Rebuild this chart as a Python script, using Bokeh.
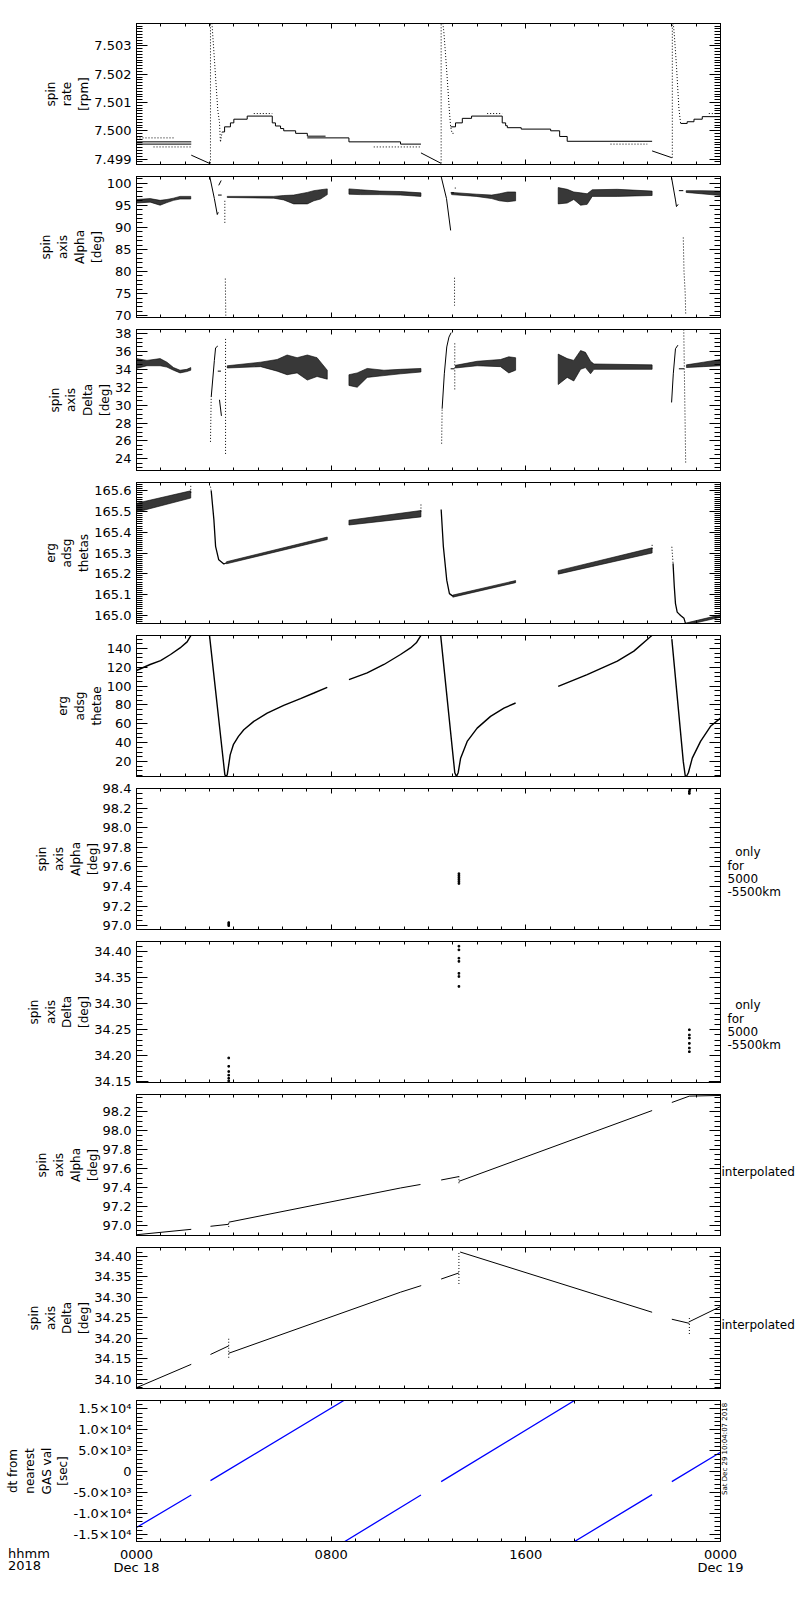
from bokeh.plotting import figure
from bokeh.layouts import column
from bokeh.models import (LinearAxis, FixedTicker, SingleIntervalTicker, PrintfTickFormatter,
                          CustomJSTickFormatter, Range1d, Div)
from bokeh.embed import file_html
from bokeh.resources import INLINE

N = float("nan")

# ---------------- time axis (hours since 2018-12-18 00:00) ----------------
hour_ticks = [0, 8, 16, 24]
hour_minor = list(range(0, 25))
hour_labels = ["0000\nDec 18", "0800", "1600", "0000\nDec 19"]
corner_label = ["hhmm", "2018"]
stamp_text = "Sat Dec 29 10:04:07 2018"
only_text = "\n\n\u00a0\u00a0only\nfor\n5000\n-5500km"
interp_text = "\ninterpolated"

# ---------------- panel 1 : spin rate [rpm] ----------------
rate_t = [0, 2.25, N, 0, 2.25, N, 2.25, 3.0, N,
          3.52, 3.62, 3.62, 3.86, 3.86, 4.0, 4.0, 4.55, 4.55, 5.58, 5.58, 5.71, 5.71, 5.92, 5.92,
          6.05, 6.05, 6.54, 6.54, 7.02, 7.02, 7.77, N,
          7.02, 8.73, 8.73, 10.85, 10.85, 11.69, N,
          11.69, 12.52, N,
          12.91, 13.11, 13.11, 13.39, 13.39, 13.77, 13.77, 15.03, 15.03, 15.17, 15.17, 15.24, 15.24,
          15.81, 15.81, 17.02, 17.02, 17.39, 17.39, 17.7, 17.7, 21.19, N,
          21.19, 22.0, N,
          22.36, 22.63, 22.63, 22.91, 22.91, 23.25, 23.25, 24.0]
rate_v = [7.49961, 7.49961, N, 7.49953, 7.49953, N, 7.49914, 7.49885, N,
          7.49996, 7.49996, 7.50014, 7.50014, 7.50028, 7.50028, 7.50041, 7.50041, 7.50052, 7.50052,
          7.50028, 7.50028, 7.50017, 7.50017, 7.50008, 7.50008, 7.5, 7.5, 7.49991, 7.49991,
          7.49981, 7.49981, N,
          7.49975, 7.49975, 7.49961, 7.49961, 7.49953, 7.49953, N,
          7.49922, 7.49885, N,
          7.50014, 7.50014, 7.50028, 7.50028, 7.50044, 7.50044, 7.50052, 7.50052, 7.50028, 7.50028,
          7.50018, 7.50018, 7.50011, 7.50011, 7.50006, 7.50006, 7.5, 7.5, 7.4998, 7.4998,
          7.49963, 7.49963, N,
          7.49929, 7.49905, N,
          7.50026, 7.50026, 7.50032, 7.50032, 7.50041, 7.50041, 7.5005, 7.5005]
rate_dot_t = [0, 1.55, N, 0.7, 2.25, N, 3.04, 3.04, N, 3.1, 3.18, 3.25, 3.34, 3.41, 3.45, 3.52, N,
              4.82, 5.58, N, 9.75, 11.69, N, 12.52, 12.52, N,
              12.59, 12.63, 12.7, 12.77, 12.85, 12.91, 12.97, 13.05, N, 14.41, 15.03, N, 19.48, 20.99, N,
              22.02, 22.02, N, 22.06, 22.11, 22.19, 22.29, 22.36, N, 23.52, 24.0]
rate_dot_v = [7.49975, 7.49975, N, 7.49943, 7.49943, N, 7.49885, 7.5038, N,
              7.5038, 7.5028, 7.5019, 7.50073, 7.5003, 7.4996, 7.49996, N,
              7.50061, 7.50061, N, 7.49943, 7.49943, N, 7.49885, 7.5038, N,
              7.5038, 7.5035, 7.5027, 7.50185, 7.5008, 7.50014, 7.49991, 7.49991, N,
              7.50061, 7.50061, N, 7.49953, 7.49953, N,
              7.49905, 7.5038, N, 7.5038, 7.5033, 7.5023, 7.5008, 7.50026, N, 7.50061, 7.50061]

# ---------------- panel 2 : spin axis Alpha [deg] ----------------
alpha_band_t = [0, 0.56, 0.97, 1.25, 1.52, 1.79, 2.23, N,
                3.73, 5.64, 6.05, 6.46, 7.02, 7.29, 7.56, 7.84, N,
                8.73, 9.2, 10.0, 10.85, 11.69, N,
                12.95, 13.96, 14.6, 14.92, 15.25, 15.58, N,
                17.33, 17.7, 17.97, 18.25, 18.52, 18.73, 19.76, 21.19, N,
                22.59, 23.2, 24.0]
alpha_band_lo = [95.5, 95.7, 95.0, 95.6, 96.1, 96.4, 96.4, N,
                 96.75, 96.6, 96.2, 95.3, 95.3, 96.0, 96.4, 97.4, N,
                 97.5, 97.4, 97.4, 97.3, 97.0, N,
                 97.4, 97.0, 96.5, 96.0, 95.8, 96.0, N,
                 95.3, 95.5, 96.3, 95.0, 95.2, 97.0, 97.0, 97.2, N,
                 97.9, 97.6, 97.2]
alpha_band_hi = [96.3, 96.5, 96.1, 96.3, 96.6, 97.0, 97.0, N,
                 97.0, 97.0, 97.2, 97.3, 97.9, 98.3, 98.5, 98.7, N,
                 98.7, 98.5, 98.2, 98.1, 97.8, N,
                 97.9, 97.5, 97.3, 97.6, 98.0, 98.0, N,
                 99.0, 98.6, 98.0, 97.8, 97.6, 98.5, 98.6, 98.2, N,
                 98.3, 98.3, 98.2]
alpha_t = [3.01, 3.2, 3.32, 3.36, N, 3.38, 3.48, N, 3.35, 3.5, N,
           12.52, 12.74, 12.91, N, 12.91, 13.05, N,
           21.99, 22.15, 22.19, 22.26, N, 22.29, 22.47]
alpha_v = [101.5, 96.5, 92.9, 93.4, N, 99.5, 100.6, N, 97.3, 97.3, N,
           101.5, 96.5, 89.3, N, 97.8, 97.8, N,
           101.2, 96.2, 94.7, 95.2, N, 98.3, 98.3]
alpha_dot_t = [3.63, 3.63, N, 3.65, 3.67, N, 13.07, 13.07, N, 22.47, 22.5, 22.55, 22.57, N, 13.1, 13.1]
alpha_dot_v = [96.0, 91.0, N, 78.4, 69.6, N, 78.6, 72.3, N, 87.7, 80.0, 75.0, 70.3, N, 99.0, 98.4]

# ---------------- panel 3 : spin axis Delta [deg] ----------------
delta_band_t = [0, 0.43, 0.97, 1.25, 1.52, 1.79, 2.07, 2.23, N,
                3.73, 5.10, 5.78, 6.19, 6.6, 7.02, 7.42, 7.84, N,
                8.73, 9.07, 9.48, 10.17, 10.85, 11.69, N,
                13.11, 14.0, 14.96, 15.3, 15.58, N,
                17.33, 17.7, 17.97, 18.25, 18.45, 18.66, 18.8, 21.19, N,
                22.6, 23.3, 24.0]
delta_band_lo = [34.1, 34.4, 34.4, 34.25, 33.9, 33.6, 33.75, 33.9, N,
                 34.15, 34.3, 33.8, 33.4, 33.6, 32.8, 33.2, 32.9, N,
                 32.2, 32.0, 33.1, 33.3, 33.5, 33.7, N,
                 34.15, 34.4, 34.3, 33.6, 33.9, N,
                 32.3, 33.1, 32.7, 34.0, 34.2, 33.5, 34.0, 34.0, N,
                 34.2, 34.3, 34.4]
delta_band_hi = [35.2, 35.0, 35.2, 34.8, 34.2, 33.9, 34.0, 34.2, N,
                 34.4, 34.8, 35.1, 35.6, 35.3, 35.6, 35.3, 33.9, N,
                 33.4, 33.6, 34.1, 33.9, 34.0, 34.1, N,
                 34.45, 34.9, 35.1, 35.4, 35.3, N,
                 35.7, 35.2, 35.0, 36.1, 35.9, 34.9, 34.6, 34.5, N,
                 34.5, 34.8, 35.1]
delta_t = [3.07, 3.2, 3.25, 3.34, N, 3.41, 3.49, N, 3.34, 3.47, N,
           12.56, 12.65, 12.75, 12.84, 12.93, N, 12.91, 13.07, N,
           21.99, 22.06, 22.15, 22.25, N, 22.29, 22.5]
delta_v = [30.9, 35.0, 36.4, 36.6, N, 30.6, 28.8, N, 33.8, 33.8, N,
           29.6, 33.5, 36.5, 37.6, 38.1, N, 34.06, 34.06, N,
           30.3, 33.5, 36.3, 36.7, N, 34.06, 34.06]
delta_dot_t = [3.04, 3.07, N, 3.66, 3.66, N, 12.54, 12.56, N, 13.08, 13.08, N, 22.49, 22.57]
delta_dot_v = [25.9, 30.9, N, 37.4, 24.5, N, 25.7, 29.6, N, 36.9, 31.6, N, 38.45, 23.4]

# ---------------- panel 4 : erg adsg thetas ----------------
thetas_band_t = [0, 2.23, N, 3.7, 7.84, N, 8.73, 11.69, N, 13.0, 15.58, N, 17.33, 21.19, N, 22.57, 24.0]
thetas_band_lo = [165.497, 165.565, N, 165.248, 165.365, N, 165.435, 165.474, N,
                  165.087, 165.157, N, 165.198, 165.30, N, 164.952, 164.99]
thetas_band_hi = [165.54, 165.60, N, 165.258, 165.377, N, 165.458, 165.505, N,
                  165.097, 165.167, N, 165.215, 165.325, N, 164.962, 165.002]
thetas_t = [3.07, 3.18, 3.25, 3.38, 3.59, 3.7, N,
            12.52, 12.61, 12.75, 12.86, 13.0, N,
            22.05, 22.1, 22.15, 22.22, 22.36, 22.5, 22.57]
thetas_v = [165.60, 165.461, 165.332, 165.267, 165.247, 165.253, N,
            165.51, 165.332, 165.169, 165.104, 165.092, N,
            165.25, 165.14, 165.056, 165.015, 164.999, 164.985, 164.957]
thetas_dot_t = [2.23, 2.23, N, 3.04, 3.07, N, 11.69, 11.69, N, 21.19, 21.19, N, 22.0, 22.05]
thetas_dot_v = [165.59, 165.624, N, 165.62, 165.60, N, 165.50, 165.54, N, 165.32, 165.34, N, 165.33, 165.25]

# ---------------- panel 5 : erg adsg thetae ----------------
thetae_t = [0, 0.56, 0.99, 1.4, 1.79, 2.08, 2.25, N,
            3.0, 3.63, 3.68, 3.73, 3.85, 3.98, 4.19, 4.41, 4.82, 5.37, 6.05, 6.74, 7.29, 7.84, N,
            8.73, 9.48, 10.17, 10.85, 11.26, 11.5, 11.69, N,
            12.5, 13.08, 13.15, 13.22, 13.32, 13.59, 14.0, 14.55, 15.1, 15.58, N,
            17.33, 18.52, 19.76, 20.44, 20.99, 21.19, N,
            22.0, 22.47, 22.55, 22.6, 22.68, 22.84, 23.18, 23.59, 24.0]
thetae_v = [116.6, 123, 127.2, 133.6, 140.6, 147, 154.5, N,
            154, 6, 3.5, 6, 27, 37.8, 46.6, 53.7, 62.6, 71.4, 79.6, 86.8, 92.7, 98.8, N,
            107, 114, 123, 133.6, 140.6, 146, 154, N,
            154, 8, 4, 8, 23.5, 41.3, 55.4, 67.9, 76.7, 82.1, N,
            99.8, 112.3, 126.5, 137.2, 149.6, 154, N,
            150, 20, 5, 4, 8, 23.5, 41.3, 57.3, 66]

# ---------------- panel 6 : spin axis Alpha, only for 5000-5500km ----------------
alpha_only_t = [3.79, 3.79, 3.79, 13.25, 13.25, 13.25, 13.25, 13.25, 13.25, 22.72, 22.72, 22.74]
alpha_only_v = [97.0, 97.015, 97.03, 97.43, 97.45, 97.47, 97.49, 97.51, 97.53, 98.35, 98.37, 98.39]

# ---------------- panel 7 : spin axis Delta, only for 5000-5500km ----------------
delta_only_t = [3.79, 3.79, 3.79, 3.79, 3.79, 3.79,
                13.25, 13.25, 13.25, 13.25, 13.25, 13.25, 13.25,
                22.72, 22.72, 22.72, 22.72, 22.72, 22.72]
delta_only_v = [34.152, 34.157, 34.163, 34.17, 34.18, 34.196,
                34.333, 34.352, 34.358, 34.381, 34.387, 34.403, 34.41,
                34.208, 34.215, 34.224, 34.234, 34.24, 34.25]
delta_only_edge_t = [0, 0.49, N, 23.52, 24.0]
delta_only_edge_v = [34.1495, 34.1495, N, 34.1495, 34.1495]

# ---------------- panel 8 : spin axis Alpha, interpolated ----------------
alpha_int_t = [0, 2.25, N, 3.04, 3.79, N, 3.79, 10.85, 11.67, N, 12.52, 13.25, N, 13.25, 21.19, N,
               22.0, 22.72, 24.0]
alpha_int_v = [96.908, 96.965, N, 96.997, 97.018, N, 97.04, 97.40, 97.437, N, 97.484, 97.52, N,
               97.47, 98.215, N, 98.30, 98.367, 98.374]
alpha_int_dot_t = [3.79, 3.79, N, 13.25, 13.25]
alpha_int_dot_v = [96.99, 97.045, N, 97.45, 97.545]

# ---------------- panel 9 : spin axis Delta, interpolated ----------------
delta_int_t = [0, 2.25, N, 3.04, 3.79, N, 3.79, 10.85, 11.7, N, 12.52, 13.25, N, 13.3, 21.19, N,
               22.0, 22.72, N, 22.72, 24.0]
delta_int_v = [34.079, 34.136, N, 34.160, 34.181, N, 34.163, 34.312, 34.328, N, 34.344, 34.359, N,
               34.41, 34.263, N, 34.246, 34.236, N, 34.24, 34.277]
delta_int_dot_t = [3.79, 3.79, N, 13.25, 13.25, N, 22.72, 22.72]
delta_int_dot_v = [34.152, 34.199, N, 34.332, 34.41, N, 34.21, 34.25]

# ---------------- panel 10 : dt from nearest GAS val [sec] ----------------
dt_t = [0, 2.25, N, 3.04, 8.52, N, 8.56, 11.69, N, 12.52, 18.0, N, 18.0, 21.19, N, 22.0, 24.0]
dt_v = [-13350, -5600, N, -2160, 17000, N, -16700, -5600, N, -2400, 17000, N, -16700, -5500, N,
        -2400, 4630]
dt_ticks = [-15000, -10000, -5000, 0, 5000, 10000, 15000]
dt_tick_labels = ["-1.5\u00d710\u2074", "-1.0\u00d710\u2074", "-5.0\u00d710\u00b3", "0",
                  "5.0\u00d710\u00b3", "1.0\u00d710\u2074", "1.5\u00d710\u2074"]
dt_minor = list(range(-17000, 17001, 1000))

FONT = "DejaVu Sans"
LEFT, FW, RIGHT, FH = 136, 584, 78, 141
BOTTOM = 45


def split(t, *cols):
    segs, cur = [], []
    for i, x in enumerate(t):
        if x != x:
            if cur:
                segs.append(cur)
                cur = []
        else:
            cur.append(i)
    if cur:
        segs.append(cur)
    return [([t[i] for i in s],) + tuple([c[i] for i in s] for c in cols) for s in segs]


def blank():
    return CustomJSTickFormatter(code="return ''")


def style_axis(ax, major, minor):
    ax.major_tick_in = major
    ax.major_tick_out = 0
    ax.minor_tick_in = minor
    ax.minor_tick_out = 0
    ax.axis_line_color = "black"
    ax.major_tick_line_color = "black"
    ax.minor_tick_line_color = "black"
    ax.axis_line_width = 1
    ax.major_label_text_font = FONT
    ax.major_label_text_font_size = "13px"
    ax.major_label_text_color = "black"


def panel(yr, yticker, yfmt, ylabel, top=6, bottom=6, last=False, rlabel=None, rstand=7):
    p = figure(frame_width=FW, frame_height=FH, x_range=Range1d(0, 24), y_range=Range1d(*yr),
               output_backend="svg", toolbar_location=None,
               x_axis_location=None, y_axis_location=None,
               min_border_left=LEFT, min_border_right=RIGHT, min_border_top=top,
               min_border_bottom=bottom,
               background_fill_color="white", border_fill_color="white", outline_line_color="black")
    p.grid.visible = False
    xt = FixedTicker(ticks=hour_ticks, minor_ticks=hour_minor)
    for loc in ("below", "above"):
        ax = LinearAxis(ticker=xt)
        style_axis(ax, 5, 3)
        if loc == "below" and last:
            ax.major_label_overrides = {t: l for t, l in zip(hour_ticks, hour_labels)}
            ax.major_label_standoff = 5
            ax.major_label_text_line_height = 0.92
        else:
            ax.formatter = blank()
            ax.major_label_standoff = 0
        p.add_layout(ax, loc)
    left = LinearAxis(ticker=yticker, axis_label=ylabel)
    if isinstance(yfmt, dict):
        left.major_label_overrides = yfmt
    else:
        left.formatter = PrintfTickFormatter(format=yfmt)
    style_axis(left, 11, 6)
    left.major_label_standoff = 5
    left.axis_label_standoff = 0
    left.axis_label_text_font = FONT
    left.axis_label_text_font_size = "12px"
    left.axis_label_text_font_style = "normal"
    left.axis_label_text_color = "black"
    p.add_layout(left, "left")
    right = LinearAxis(ticker=yticker, formatter=blank())
    style_axis(right, 11, 6)
    right.major_label_standoff = 0
    if rlabel is not None:
        right.axis_label = rlabel
        right.axis_label_orientation = "horizontal"
        right.axis_label_standoff = rstand
        right.axis_label_text_font = FONT
        right.axis_label_text_font_size = "12px"
        right.axis_label_text_font_style = "normal"
        right.axis_label_text_color = "black"
        right.axis_label_text_align = "left"
        right.axis_label_text_line_height = 0.95
    p.add_layout(right, "right")
    return p


def solid(p, t, v, color="black", width=1.0):
    p.line(t, v, line_color=color, line_width=width)


def dotted(p, t, v):
    p.line(t, v, line_color="black", line_width=1, line_dash="1 2")


def band(p, t, lo, hi):
    xs, ys = [], []
    for st, sl, sh in split(t, lo, hi):
        xs.append(st + st[::-1])
        ys.append(sl + sh[::-1])
    p.patches(xs, ys, fill_color="black", fill_alpha=0.78, line_color="black", line_width=0.7,
              line_alpha=0.85)


ALPHA = "spin\naxis\nAlpha\n[deg]"
DELTA = "spin\naxis\nDelta\n[deg]"

p1 = panel((7.49881, 7.50379), SingleIntervalTicker(interval=0.001, num_minor_ticks=10), "%.3f",
           "spin\nrate\n[rpm]", top=23)
solid(p1, rate_t, rate_v)
dotted(p1, rate_dot_t, rate_dot_v)

p2 = panel((69.6, 101.5), SingleIntervalTicker(interval=5, num_minor_ticks=5), "%d", ALPHA)
band(p2, alpha_band_t, alpha_band_lo, alpha_band_hi)
solid(p2, alpha_t, alpha_v)
dotted(p2, alpha_dot_t, alpha_dot_v)

p3 = panel((22.7, 38.45), SingleIntervalTicker(interval=2, num_minor_ticks=4), "%d", DELTA)
band(p3, delta_band_t, delta_band_lo, delta_band_hi)
solid(p3, delta_t, delta_v)
dotted(p3, delta_dot_t, delta_dot_v)

p4 = panel((164.96, 165.64), SingleIntervalTicker(interval=0.1, num_minor_ticks=10), "%.1f",
           "erg\nadsg\nthetas")
band(p4, thetas_band_t, thetas_band_lo, thetas_band_hi)
solid(p4, thetas_t, thetas_v, width=1.3)
dotted(p4, thetas_dot_t, thetas_dot_v)

p5 = panel((4.0, 153.8), SingleIntervalTicker(interval=20, num_minor_ticks=4), "%d",
           "erg\nadsg\nthetae")
solid(p5, thetae_t, thetae_v, width=1.4)

p6 = panel((96.96, 98.40), SingleIntervalTicker(interval=0.2, num_minor_ticks=4), "%.1f", ALPHA,
           rlabel=only_text)
p6.scatter(alpha_only_t, alpha_only_v, marker="square", size=1.6, color="black")

p7 = panel((34.149, 34.419), SingleIntervalTicker(interval=0.05, num_minor_ticks=5), "%.2f", DELTA,
           rlabel=only_text)
p7.scatter(delta_only_t, delta_only_v, marker="square", size=1.6, color="black")
solid(p7, delta_only_edge_t, delta_only_edge_v, width=2.5)

p8 = panel((96.90, 98.384), SingleIntervalTicker(interval=0.2, num_minor_ticks=4), "%.1f", ALPHA,
           rlabel=interp_text, rstand=1)
solid(p8, alpha_int_t, alpha_int_v)
dotted(p8, alpha_int_dot_t, alpha_int_dot_v)

p9 = panel((34.077, 34.421), SingleIntervalTicker(interval=0.05, num_minor_ticks=5), "%.2f", DELTA,
           rlabel=interp_text, rstand=1)
solid(p9, delta_int_t, delta_int_v)
dotted(p9, delta_int_dot_t, delta_int_dot_v)

p10 = panel((-16700, 17000), FixedTicker(ticks=dt_ticks, minor_ticks=dt_minor),
            {t: l for t, l in zip(dt_ticks, dt_tick_labels)},
            "dt from\nnearest\nGAS val\n[sec]", bottom=BOTTOM, last=True)
solid(p10, dt_t, dt_v, color="#0000ff", width=1.3)

# corner caption laid over the bottom-left corner of the last panel
corner = Div(text=('<div style="font-family:\'DejaVu Sans\';font-size:13px;line-height:12px;'
                   'padding-top:7px;color:black;white-space:nowrap">'
                   + "<br>".join(corner_label) + "</div>"),
             width=60, height=BOTTOM, margin=(-BOTTOM, 0, 0, 8))

# vertical time stamp just right of the last panel (reads bottom to top)
STAMP_H = 96
stamp = Div(text=('<div style="position:relative;width:10px;height:%dpx">'
                  '<span style="position:absolute;left:0px;top:%dpx;transform-origin:0 0;'
                  'transform:rotate(-90deg);white-space:nowrap;font-family:\'DejaVu Sans\';'
                  'font-size:7px;line-height:8px;color:black">%s</span></div>')
            % (STAMP_H, STAMP_H, stamp_text),
            width=10, height=STAMP_H, margin=(-(BOTTOM + STAMP_H + 46), 0, BOTTOM + 1, 721))

layout = column(p1, p2, p3, p4, p5, p6, p7, p8, p9, p10, corner, stamp, spacing=0)
open("out.html", "w").write(file_html(layout, INLINE))
